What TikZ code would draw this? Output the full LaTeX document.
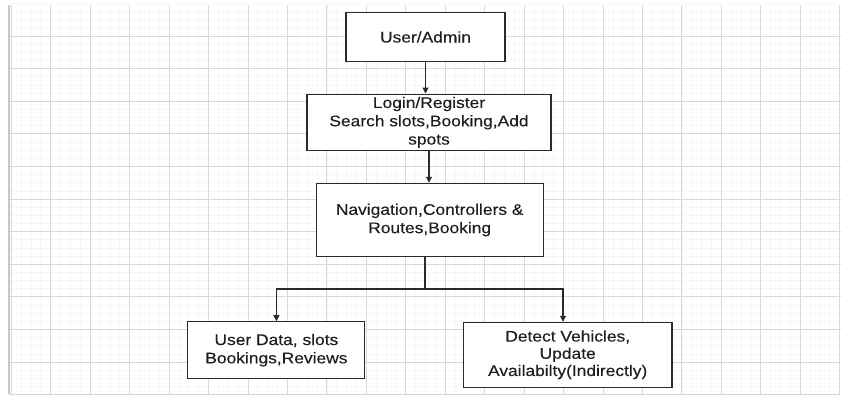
\documentclass[tikz,border=0pt]{standalone}
\usepackage{fontspec}
\setmainfont{Liberation Sans}[FakeStretch=1.13,FakeBold=0.15]
\usetikzlibrary{arrows.meta}
\definecolor{minorgrid}{HTML}{F6F6F6}
\definecolor{majorgrid}{HTML}{D8D8D8}
\definecolor{edgegray}{HTML}{C8C8C8}
\definecolor{linecol}{HTML}{2A2A2A}
\definecolor{txtcol}{HTML}{1E1E1E}
\begin{document}
\begin{tikzpicture}[x=1pt,y=-1pt,
  box/.style={draw=linecol, line width=1.1pt, fill=white, align=center, inner sep=0pt,
    font=\fontsize{15.4}{18.3}\selectfont, text=txtcol},
  conn/.style={draw=linecol, line width=1.1pt},
  arr/.style={conn, -{Triangle[length=6pt,width=6pt]}},
  minorline/.style={draw=minorgrid, line width=0.7pt},
  majorline/.style={draw=majorgrid, line width=0.9pt}]
\useasboundingbox (0,0) rectangle (841,394);
\fill[white] (0,0) rectangle (841,394);
% minor grid
\foreach \i in {0,...,84} {\draw[minorline] ({11.25+9.8625*\i},5) -- ({11.25+9.8625*\i},394);}
\foreach \j in {0,...,48} {\draw[minorline] (9,{3.4+8.15*\j}) -- (841,{3.4+8.15*\j});}
% major grid
\foreach \i in {0,...,21} {\draw[majorline] ({11.25+39.45*\i},5) -- ({11.25+39.45*\i},394);}
\foreach \j in {1,...,12} {\draw[majorline] (9,{3.4+32.6*\j}) -- (841,{3.4+32.6*\j});}
\draw[draw=edgegray, line width=1.6pt] (9,5) -- (9,394);
% boxes
\node[box, minimum width=159pt, minimum height=49pt] (ua) at (425.5,37) {User/Admin};
\node[box, minimum width=244pt, minimum height=56.5pt] (login) at (429,122.3)
  {Login/Register\\Search slots,Booking,Add\\spots};
\node[box, minimum width=227pt, minimum height=73.4pt] (nav) at (429.7,220)
  {Navigation,Controllers \&\\Routes,Booking};
\node[box, minimum width=177pt, minimum height=57pt] (left) at (276.4,350.2)
  {User Data, slots\\Bookings,Reviews};
\node[box, minimum width=208.5pt, minimum height=65pt, font=\fontsize{15.4}{17.2}\selectfont] (right) at (567.7,354.8)
  {Detect Vehicles,\\Update\\Availabilty(Indirectly)};
% connectors
\draw[arr] (ua.south) -- (ua.south |- login.north);
\draw[arr] (login.south) -- (login.south |- nav.north);
\coordinate (j) at (425,289);
\coordinate (jr) at (563,289);
\draw[conn] (nav.south -| j) -- (j);
\draw[arr] (j) -| (left.north);
\draw[arr] (j) -- (jr) -- (jr |- right.north);
\end{tikzpicture}
\end{document}
